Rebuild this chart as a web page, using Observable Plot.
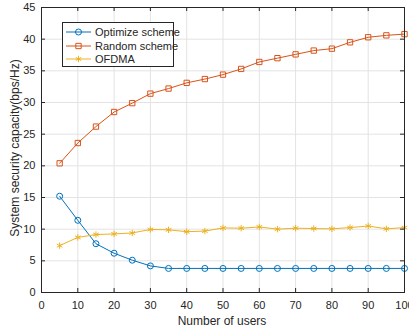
<!DOCTYPE html>
<html><head><meta charset="utf-8">
<script src="https://cdn.jsdelivr.net/npm/d3@7"></script>
<script src="https://cdn.jsdelivr.net/npm/@observablehq/plot@0.6"></script>
<style>
body{margin:0;background:#fff}
#chart{position:relative;width:409px;height:330px;overflow:hidden;font-family:'Liberation Sans',Arial,sans-serif}
#chart > svg{display:block}
#legend{position:absolute;left:62px;top:22px;width:110px;height:43px;border:1px solid #262626;background:#fff;box-sizing:content-box}
.lrow{position:absolute;left:0;height:14px;display:flex;align-items:center;font-size:11px;color:#262626;white-space:nowrap}
.lrow svg{display:block;margin-right:2px}
</style>
</head><body><div id="chart"><div id="legend"></div></div>
<script>
const users = [5,10,15,20,25,30,35,40,45,50,55,60,65,70,75,80,85,90,95,100];
const optimize = [15.2,11.4,7.7,6.2,5.1,4.2,3.8,3.8,3.8,3.8,3.8,3.8,3.8,3.8,3.8,3.8,3.8,3.8,3.8,3.8];
const random = [20.4,23.6,26.2,28.5,29.9,31.4,32.2,33.1,33.7,34.4,35.3,36.4,37.0,37.6,38.2,38.5,39.5,40.3,40.6,40.8];
const ofdma = [7.4,8.7,9.15,9.25,9.4,9.95,9.9,9.6,9.7,10.2,10.15,10.35,10.0,10.15,10.1,10.05,10.25,10.5,10.05,10.25];
const seriesNames = ["Optimize scheme","Random scheme","OFDMA"];
const seriesColors = ["#0072BD","#D95319","#EDB120"];
const seriesSymbols = ["circle","square","asterisk"];
const xTicks = [0,10,20,30,40,50,60,70,80,90,100];
const yTicks = [0,5,10,15,20,25,30,35,40,45];
const xLabel = "Number of users";
const yLabel = "System security capacity(bps/Hz)";

const allSeries = [optimize, random, ofdma];
const data = allSeries.flatMap((vals, si) => users.map((u, i) => ({u, v: vals[i], s: seriesNames[si]})));

const W = 409, H = 330, mL = 41, mR = 5, mT = 7, mB = 38;
const innerW = W - mL - mR, innerH = H - mT - mB, tickLen = 4;
const axisColor = "#262626";
const gridColor = "#e3e3e3";
const marks = [
  Plot.gridX(xTicks, {stroke: gridColor, strokeOpacity: 1}),
  Plot.gridY(yTicks, {stroke: gridColor, strokeOpacity: 1}),
];
seriesNames.forEach((name, si) => {
  const d = data.filter(r => r.s === name);
  marks.push(Plot.line(d, {x: "u", y: "v", stroke: seriesColors[si], strokeWidth: 1}));
  marks.push(Plot.dot(d, {x: "u", y: "v", stroke: seriesColors[si], fill: "none", symbol: seriesSymbols[si], r: 3, strokeWidth: 1}));
});
marks.push(
  Plot.frame({stroke: axisColor, strokeWidth: 1}),
  Plot.axisX(xTicks, {anchor: "bottom", tickSize: -4, tickPadding: 13, label: null, stroke: axisColor, fill: axisColor}),
  Plot.axisY(yTicks, {anchor: "left", tickSize: -4, tickPadding: 10, label: null, stroke: axisColor, fill: axisColor}),
  // inward ticks on the top and right edges (no labels)
  Plot.tickX(xTicks, {x: d => d, insetBottom: innerH - tickLen, stroke: axisColor, strokeWidth: 1}),
  Plot.tickY(yTicks, {y: d => d, insetLeft: innerW - tickLen, stroke: axisColor, strokeWidth: 1})
);

const chart = Plot.plot({
  width: W, height: H,
  marginLeft: mL, marginRight: mR, marginTop: mT, marginBottom: mB,
  style: {fontFamily: "'Liberation Sans', Arial, sans-serif", fontSize: "11px", color: axisColor, background: "#fff", overflow: "visible"},
  x: {domain: [0, 100]},
  y: {domain: [0, 45]},
  marks
});
const container = document.getElementById("chart");
container.insertBefore(chart, container.firstChild);

const svg = d3.select(chart);
svg.append("text").attr("x", 222).attr("y", 325).attr("text-anchor", "middle")
  .attr("font-size", 12).attr("fill", axisColor).text(xLabel);
svg.append("text").attr("transform", "translate(19,148) rotate(-90)").attr("text-anchor", "middle")
  .attr("font-size", 12).attr("fill", axisColor).text(yLabel);

// legend (HTML overlay)
const symMap = {circle: d3.symbolCircle, square: d3.symbolSquare, asterisk: d3.symbolAsterisk};
const legend = d3.select("#legend");
seriesNames.forEach((name, si) => {
  const row = legend.append("div").attr("class", "lrow").style("top", (2 + si * 13.5) + "px");
  const s = row.append("svg").attr("width", 30).attr("height", 14);
  s.append("line").attr("x1", 3).attr("x2", 28).attr("y1", 7).attr("y2", 7).attr("stroke", seriesColors[si]).attr("stroke-width", 1);
  s.append("path").attr("transform", "translate(15.5,7)").attr("d", d3.symbol(symMap[seriesSymbols[si]], Math.PI * 9)())
    .attr("fill", "none").attr("stroke", seriesColors[si]).attr("stroke-width", 1);
  row.append("span").text(name);
});
</script>
</body></html>
